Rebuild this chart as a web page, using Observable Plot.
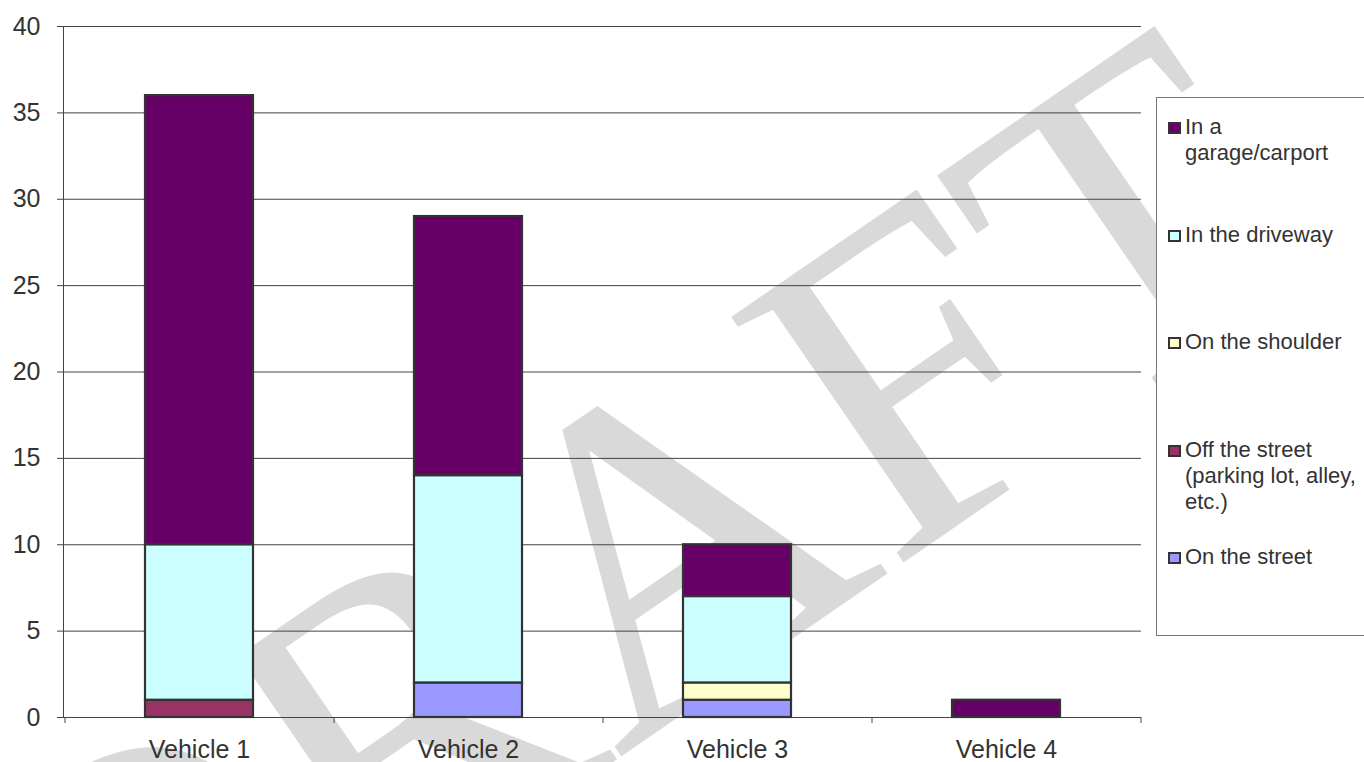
<!DOCTYPE html>
<html><head><meta charset="utf-8">
<script src="https://cdn.jsdelivr.net/npm/d3@7"></script>
<script src="https://cdn.jsdelivr.net/npm/@observablehq/plot@0.6"></script>
<style>
html,body{margin:0;padding:0;background:#fff;width:1364px;height:762px;overflow:hidden;font-family:"Liberation Sans",Arial,sans-serif;}
#wm{position:absolute;left:0;top:0;z-index:0}
#chart{position:absolute;left:0;top:0;z-index:1}
#legend{position:absolute;left:1156px;top:97px;width:230px;height:539px;border:1px solid #777;background:#fff;z-index:2;box-sizing:border-box;}
.item{position:absolute;left:0;width:230px;font-size:22px;line-height:26px;color:#333;}
.sw{position:absolute;left:11px;top:8px;width:13px;height:12px;border:2px solid #333;box-sizing:border-box;}
.lab{position:absolute;left:28px;top:0;width:180px;}
</style>
</head><body>
<svg id="wm" width="1364" height="762"><text x="712" y="694" text-anchor="middle" transform="rotate(-34.5 712 694)" font-family="Liberation Serif" font-size="458" fill="#d9d9d9">DRAFT</text></svg>
<div id="chart"></div>
<div id="legend"></div>
<script>
const vehicles = ["Vehicle 1", "Vehicle 2", "Vehicle 3", "Vehicle 4"];
const locations = ["On the street", "Off the street (parking lot, alley, etc.)", "On the shoulder", "In the driveway", "In a garage/carport"];
const onStreet   = [0, 2, 1, 0];
const offStreet  = [1, 0, 0, 0];
const onShoulder = [0, 0, 1, 0];
const inDriveway = [9, 12, 5, 0];
const inGarage   = [26, 15, 3, 1];
const colors = ["#9999FF", "#993366", "#FFFFCC", "#CCFFFF", "#660066"];
const yTicks = [0, 5, 10, 15, 20, 25, 30, 35, 40];

const seriesValues = [onStreet, offStreet, onShoulder, inDriveway, inGarage];
const rows = [];
vehicles.forEach((v, i) => {
  seriesValues.forEach((arr, k) => {
    rows.push({vehicle: v, location: locations[k], value: arr[i]});
  });
});

function build(step) {
  const marks = [
    Plot.gridY(yTicks, {stroke: "#444", strokeOpacity: 1, strokeWidth: 1}),
    Plot.barY(rows.filter(d => d.value > 0), Plot.stackY({
      x: "vehicle", y: "value", fill: "location", order: null,
      stroke: "#333", strokeWidth: 2.2
    })),
    Plot.axisY(yTicks, {tickSize: 6, tickPadding: 17, fontSize: 25, label: null, stroke: "#444"}),
    Plot.axisX({tickSize: 0, tickPadding: 23, fontSize: 25, label: null}),
    Plot.frame({anchor: "left", stroke: "#444"})
  ];
  if (step) {
    marks.push(Plot.axisX(vehicles, {text: null, tickSize: 6, dx: -step / 2, stroke: "#444", label: null}));
    marks.push(Plot.axisX([vehicles[vehicles.length - 1]], {text: null, tickSize: 6, dx: step / 2, stroke: "#444", label: null}));
  }
  return Plot.plot({
    width: 1150, height: 762,
    marginLeft: 63, marginRight: 9, marginTop: 26, marginBottom: 45,
    style: {fontFamily: "'Liberation Sans', Arial, sans-serif", fontSize: "25px", color: "#333", background: "transparent", overflow: "visible"},
    x: {domain: vehicles, paddingInner: 0.6, paddingOuter: 0.3},
    y: {domain: [0, 40]},
    color: {domain: locations, range: colors},
    marks
  });
}
const p0 = build(0);
const step = p0.scale("x").step;
const plot = build(step);
document.getElementById("chart").appendChild(plot);

// legend (top to bottom: reverse of stack order)
const leg = document.getElementById("legend");
const order = locations.map((l, k) => k).reverse();
order.forEach((k, j) => {
  const it = document.createElement("div");
  it.className = "item";
  it.style.top = (16 + j * 107.5) + "px";
  const sw = document.createElement("div");
  sw.className = "sw";
  sw.style.background = colors[k];
  const lab = document.createElement("div");
  lab.className = "lab";
  lab.textContent = locations[k];
  it.appendChild(sw); it.appendChild(lab);
  leg.appendChild(it);
});
</script>
</body></html>
